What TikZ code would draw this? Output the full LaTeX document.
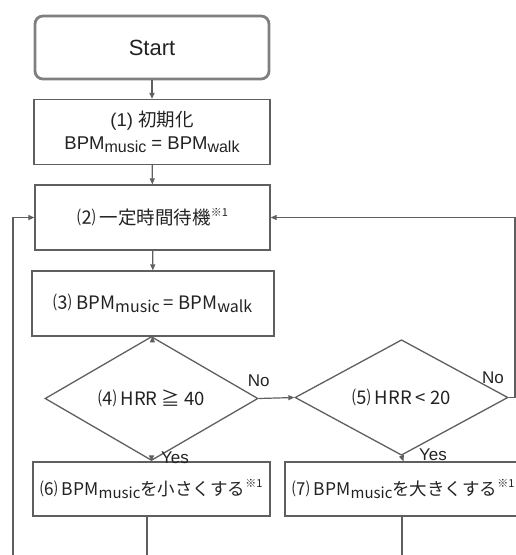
\documentclass[tikz,border=0pt]{standalone}
\usepackage{fontspec}
\setmainfont{Liberation Sans}
\newfontfamily\jp{Noto Sans CJK JP}
\usepackage{tikz}
\usetikzlibrary{shapes.geometric,arrows.meta,positioning}
\definecolor{linegray}{HTML}{5F5F5F}
\definecolor{textgray}{HTML}{222222}
\newcommand{\bpm}[2][16]{BPM\raisebox{-0.35ex}{\fontsize{#1}{#1}\selectfont #2}}
\newcommand{\asterone}{\raisebox{0.8ex}{\fontsize{11}{11}\selectfont\jp ※1}}

\tikzset{
  startbox/.style={draw=linegray!80,line width=2.8pt,rounded corners=8pt,inner sep=0pt,
    text=textgray,font=\fontsize{22}{22}\selectfont},
  proc/.style={draw=linegray,line width=1.3pt,rectangle,minimum height=65pt,inner sep=0pt,
    text=textgray,font=\fontsize{18.5}{23}\selectfont,align=center},
  action/.style={proc,minimum width=237pt,minimum height=54pt,font=\fontsize{17.5}{20}\selectfont},
  decision/.style={diamond,draw=linegray,line width=1.3pt,inner sep=0pt,
    text=textgray,font=\fontsize{18.5}{18.5}\selectfont},
  flow/.style={draw=linegray,line width=1.2pt,-{Triangle[length=6pt,width=5pt]}},
  line/.style={draw=linegray,line width=1.2pt},
  lbl/.style={text=textgray,inner sep=1pt,font=\fontsize{17}{17}\selectfont}
}

\begin{document}
\begin{tikzpicture}[x=1pt,y=-1pt]
        \useasboundingbox (0,0) rectangle (516,555);
        \clip (0,0) rectangle (516,555);
        % steps
        \node[startbox,minimum width=234pt,minimum height=63pt] (start) at (152,47.5) {Start};
        \node[proc,minimum width=236pt] (init) at (152,132)
              {(1) \jp{初期化}\\\bpm{music} = \bpm{walk}};
        \node[proc,minimum width=235pt] (wait) at (152.5,217.5)
              {\jp{⑵ 一定時間待機}\asterone};
        \node[proc,minimum width=242pt] (calc) at (153,303.5)
              {\jp{⑶} \bpm{music} = \bpm{walk}};
        % decisions
        \node[decision,minimum width=213pt,minimum height=83pt] (high) at (151.5,398.5)
              {\jp{⑷} HRR \jp{≧} 40};
        \node[decision,minimum width=213pt,minimum height=85pt] (low) at (401.5,397.5)
              {\jp{⑸} HRR < 20};
        \node[action] (slower) at (151.5,489)
              {\jp{⑹} \bpm[15]{music}\jp{を小さくする}\asterone};
        \node[action] (faster) at (403.5,489)
              {\jp{⑺} \bpm[15]{music}\jp{を大きくする}\asterone};
        % main flow
        \draw[flow] (start) -- (init);
        \draw[flow] (init) -- (wait);
        \draw[flow] (wait) -- (calc);
        \draw[flow] (calc) -- (high);
        \draw[flow] (high.east) -- (low.west) node[lbl,pos=0,above=10pt] {No};
        \draw[flow] (high.south) -- (slower.north)
              node[lbl,midway,right=8pt,yshift=4pt] {Yes};
        \draw[flow] (low.south) -- (faster.north)
              node[lbl,midway,right=15pt,yshift=4pt] {Yes};
        % loops back
        \coordinate (rloop) at (515,397.5);
        \coordinate (lloop) at (13,555);
        \coordinate (slowout) at (147,555);
        \coordinate (fastout) at (402,555);
        \draw[flow] (low.east) -- (rloop) |- (wait.east);
        \node[lbl] (no5) at (493,378) {No};
        \draw[flow] (lloop) |- (wait.west);
        \draw[line] (slower.south -| slowout) -- (slowout);
        \draw[line] (faster.south -| fastout) -- (fastout);
      \end{tikzpicture}
\end{document}
